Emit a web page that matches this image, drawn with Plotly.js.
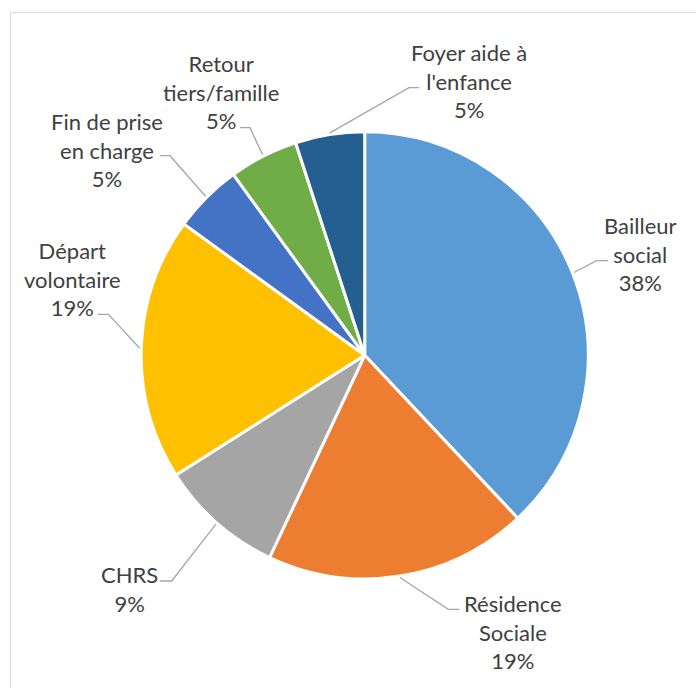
<!DOCTYPE html>
<html>
<head>
<meta charset="utf-8">
<script src="https://cdn.plot.ly/plotly-3.0.1.min.js"></script>
<style>html,body{margin:0;padding:0;background:#fff;}#chart{width:696px;height:688px;}</style>
</head>
<body>
<div id="chart"></div>
<script>
// ---- data ----
var categories = ['Bailleur social', 'Résidence Sociale', 'CHRS', 'Départ volontaire', 'Fin de prise en charge', 'Retour tiers/famille', "Foyer aide à l'enfance"];
var displayLabels = ['Bailleur<br>social', 'Résidence<br>Sociale', 'CHRS', 'Départ<br>volontaire', 'Fin de prise<br>en charge', 'Retour<br>tiers/famille', "Foyer aide à<br>l'enfance"];
var values = [38, 19, 9, 19, 5, 5, 5];
var colors = ['#5B9BD5', '#ED7D31', '#A5A5A5', '#FFC000', '#4472C4', '#70AD47', '#255E91'];

// ---- layout (pixel positions) ----
var W = 696, H = 688;
var cx = 364.7, cy = 355.3, R = 223.5;
// label block centre [x, y], leader elbow [x, y], leader end [x, y]
var labelPos = [
  [640, 254], [513, 632], [129, 589], [72, 279], [107, 150], [221, 92], [469, 81]
];
var elbow = [
  [596.7, 260.7], [448.3, 609.3], [171.7, 581], [108.3, 314.3], [170, 155.7], [250, 127.7], [409, 87.7]
];
var lineEnd = [
  [608, 260.7], [459.3, 609.3], [160, 581], [97.7, 314.3], [160, 155.7], [240, 127.7], [419, 87.7]
];

function px(x) { return x / W; }
function py(y) { return 1 - y / H; }

var total = values.reduce(function (a, b) { return a + b; }, 0);
var annotations = [];
var shapes = [];
var cum = 0;
for (var i = 0; i < values.length; i++) {
  var mid = (cum + values[i] / 2) / total * 2 * Math.PI;
  cum += values[i];
  var sx = cx + (R + 1.5) * Math.sin(mid);
  var sy = cy - (R + 1.5) * Math.cos(mid);
  var pct = Math.round(values[i] / total * 100) + '%';
  annotations.push({
    xref: 'paper', yref: 'paper',
    x: px(labelPos[i][0]), y: py(labelPos[i][1]),
    xanchor: 'center', yanchor: 'middle',
    text: displayLabels[i] + '<br>' + pct,
    showarrow: false, align: 'center',
    font: {family: 'Lato, "Open Sans", sans-serif', size: 22, color: '#404040'}
  });
  shapes.push({
    type: 'path', xref: 'paper', yref: 'paper',
    path: 'M' + px(sx) + ',' + py(sy) + ' L' + px(elbow[i][0]) + ',' + py(elbow[i][1]) + ' L' + px(lineEnd[i][0]) + ',' + py(lineEnd[i][1]),
    line: {color: '#A6A6A6', width: 1.3}
  });
}
// chart area border
shapes.push({
  type: 'rect', xref: 'paper', yref: 'paper',
  x0: px(10.5), y0: py(700), x1: px(710), y1: py(12.5),
  line: {color: '#D9D9D9', width: 1}
});

var trace = {
  type: 'pie',
  labels: categories,
  values: values,
  sort: false,
  direction: 'clockwise',
  rotation: 0,
  textinfo: 'none',
  hoverinfo: 'label+percent',
  marker: {colors: colors, line: {color: '#FFFFFF', width: 3}},
  domain: {x: [px(cx - R), px(cx + R)], y: [py(cy + R), py(cy - R)]},
  showlegend: false
};

var layout = {
  width: W, height: H,
  margin: {l: 0, r: 0, t: 0, b: 0},
  paper_bgcolor: '#FFFFFF',
  showlegend: false,
  annotations: annotations,
  shapes: shapes
};

Plotly.newPlot('chart', [trace], layout, {displayModeBar: false, staticPlot: true});
</script>
</body>
</html>
